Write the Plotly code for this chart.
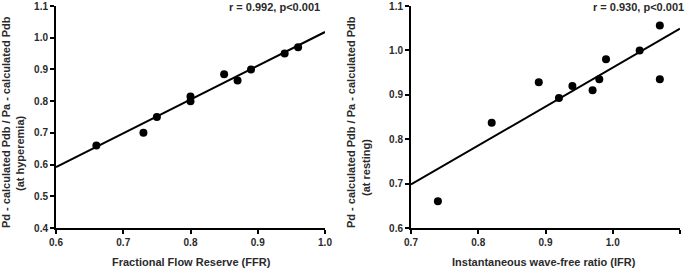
import plotly.graph_objects as go

# ---- data ----
ffr = [0.66, 0.73, 0.75, 0.80, 0.80, 0.85, 0.87, 0.89, 0.94, 0.96]
pd_hyper = [0.66, 0.70, 0.75, 0.80, 0.815, 0.885, 0.865, 0.90, 0.95, 0.97]
fit_left_x = [0.6, 1.0]
fit_left_y = [0.592, 1.018]

ifr = [0.74, 0.82, 0.89, 0.92, 0.94, 0.97, 0.98, 0.99, 1.04, 1.07, 1.07]
pd_rest = [0.66, 0.837, 0.928, 0.893, 0.92, 0.91, 0.935, 0.98, 1.0, 1.056, 0.935]
fit_right_x = [0.7, 1.1]
fit_right_y = [0.698, 1.049]

left_xticks = [0.6, 0.7, 0.8, 0.9, 1.0]
left_yticks = [0.4, 0.5, 0.6, 0.7, 0.8, 0.9, 1.0, 1.1]
right_xticks = [0.7, 0.8, 0.9, 1.0, 1.1]
right_yticks = [0.6, 0.7, 0.8, 0.9, 1.0, 1.1]

W, H = 685, 269
FONT = "Liberation Sans, Arial, sans-serif"
TXT = "#2a2a2a"


def px_x(p):
    return p / W


def px_y(p):
    return 1 - p / H


fig = go.Figure()

fig.add_trace(go.Scatter(x=fit_left_x, y=fit_left_y, mode="lines",
                         line=dict(color="black", width=2), xaxis="x", yaxis="y",
                         showlegend=False, cliponaxis=False))
fig.add_trace(go.Scatter(x=ffr, y=pd_hyper, mode="markers",
                         marker=dict(color="black", size=8), xaxis="x", yaxis="y",
                         showlegend=False))
fig.add_trace(go.Scatter(x=fit_right_x, y=fit_right_y, mode="lines",
                         line=dict(color="black", width=2), xaxis="x2", yaxis="y2",
                         showlegend=False, cliponaxis=False))
fig.add_trace(go.Scatter(x=ifr, y=pd_rest, mode="markers",
                         marker=dict(color="black", size=8), xaxis="x2", yaxis="y2",
                         showlegend=False))

tickfont = dict(family=FONT, size=10, color=TXT, weight="bold")
axis_common = dict(showline=True, linecolor="black", linewidth=2, ticks="outside",
                   ticklen=4, tickwidth=2, tickcolor="black", showgrid=False,
                   zeroline=False, tickfont=tickfont, automargin=False, mirror=False)

fig.update_layout(
    width=W, height=H,
    margin=dict(l=0, r=0, t=0, b=0),
    paper_bgcolor="white", plot_bgcolor="white",
    xaxis=dict(domain=[px_x(56), px_x(325)], range=[0.6, 1.0], tickvals=left_xticks,
               tickformat=".1f", anchor="y", **axis_common),
    yaxis=dict(domain=[px_y(228), px_y(6)], range=[0.4, 1.1], tickvals=left_yticks,
               tickformat=".1f", anchor="x", **axis_common),
    xaxis2=dict(domain=[px_x(411), px_x(680)], range=[0.7, 1.1], tickvals=right_xticks,
                tickformat=".1f", anchor="y2", **axis_common),
    yaxis2=dict(domain=[px_y(228), px_y(6)], range=[0.6, 1.1], tickvals=right_yticks,
                tickformat=".1f", anchor="x2", **axis_common),
)

title_font = dict(family=FONT, size=11, color=TXT, weight="bold")
ann = []
# x titles
ann.append(dict(text="Fractional Flow Reserve (FFR)", x=px_x(191), y=px_y(262),
                xref="paper", yref="paper", showarrow=False, font=title_font,
                xanchor="center", yanchor="middle"))
ann.append(dict(text="Instantaneous wave-free ratio (IFR)", x=px_x(544), y=px_y(262),
                xref="paper", yref="paper", showarrow=False, font=title_font,
                xanchor="center", yanchor="middle"))
# y titles
for x1, x2, y2c, sub in [(6, 20, 153, "(at hyperemia)"), (351, 366, 167, "(at resting)")]:
    ann.append(dict(text="Pd - calculated Pdb / Pa - calculated Pdb", x=px_x(x1), y=px_y(230),
                    xref="paper", yref="paper", showarrow=False, font=title_font,
                    textangle=-90, xanchor="center", yanchor="bottom"))
    ann.append(dict(text=sub, x=px_x(x2), y=px_y(y2c),
                    xref="paper", yref="paper", showarrow=False, font=title_font,
                    textangle=-90, xanchor="center", yanchor="middle"))
# r annotations
ann.append(dict(text="r = 0.992, p<0.001", x=px_x(274), y=px_y(7),
                xref="paper", yref="paper", showarrow=False, font=title_font,
                xanchor="center", yanchor="middle"))
ann.append(dict(text="r = 0.930, p<0.001", x=px_x(638), y=px_y(7),
                xref="paper", yref="paper", showarrow=False, font=title_font,
                xanchor="center", yanchor="middle"))
fig.update_layout(annotations=ann)

fig.write_html("out.html", config={"displayModeBar": False},
               post_script="document.body.style.margin='0';document.body.style.overflow='hidden';")
